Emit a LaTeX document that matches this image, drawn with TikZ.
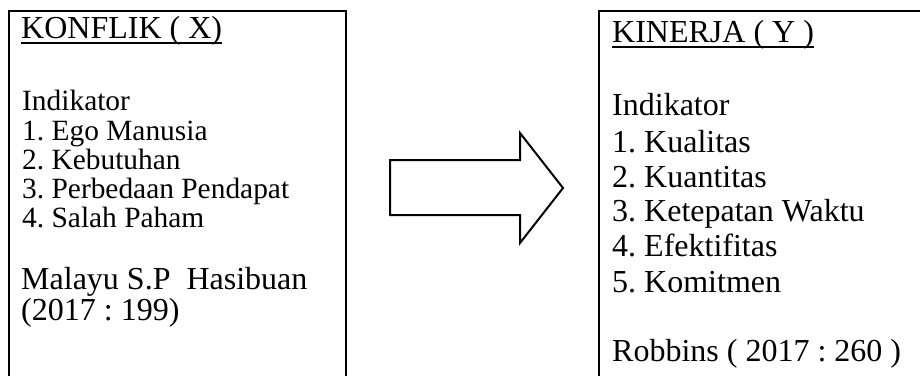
\documentclass[tikz,border=0pt]{standalone}
\usepackage{fontspec}
\setmainfont{Liberation Serif}
\frenchspacing
\begin{document}
\begin{tikzpicture}[x=1pt,y=-1pt,
  boxline/.style={line width=2.6pt},
  bigtxt/.style={anchor=base west,inner sep=0pt,font=\fontsize{32}{38}\selectfont},
  smalltxt/.style={anchor=base west,inner sep=0pt,font=\fontsize{29.4}{35}\selectfont},
  uline/.style={line width=2pt},
  blockarrow/.style={line width=2pt,line join=miter}]
\useasboundingbox (0,0) rectangle (920,375);
\clip (0,0) rectangle (920,375);
% boxes
\draw[boxline] (9,380) -- (9,11) -- (346,11) -- (346,380);
\draw[boxline] (599,380) -- (599,11) -- (930,11);
% left texts
\node[bigtxt] (kx) at (21,38) {KONFLIK ( X)};
\draw[uline] ([yshift=-5pt]kx.base west) -- ([yshift=-5pt]kx.base east);
\node[smalltxt] (li) at (22,110) {Indikator};
\node[smalltxt] (l1) at (22,140) {1. Ego Manusia};
\node[smalltxt] (l2) at (22,169) {2. Kebutuhan};
\node[smalltxt] (l3) at (22,198) {3. Perbedaan Pendapat};
\node[smalltxt] (l4) at (22,227) {4. Salah Paham};
\node[bigtxt] (lm) at (21,289) {Malayu S.P\ \ Hasibuan};
\node[bigtxt] (ly) at (21,320) {(2017 : 199)};
% right texts
\node[bigtxt] (ky) at (612,42) {KINERJA ( Y )};
\draw[uline] ([yshift=-5pt]ky.base west) -- ([yshift=-5pt]ky.base east);
\node[bigtxt] (ri) at (612,115) {Indikator};
\node[bigtxt] (r1) at (612,152) {1. Kualitas};
\node[bigtxt] (r2) at (612,187) {2. Kuantitas};
\node[bigtxt] (r3) at (612,221) {3. Ketepatan Waktu};
\node[bigtxt] (r4) at (612,256) {4. Efektifitas};
\node[bigtxt] (r5) at (612,292) {5. Komitmen};
\node[bigtxt] (rr) at (612,361) {Robbins ( 2017 : 260 )};
% block arrow
\draw[blockarrow] (390,160) -- (520,160) -- (520,133) -- (563,188) -- (520,243) -- (520,215) -- (390,215) -- cycle;
\end{tikzpicture}
\end{document}
